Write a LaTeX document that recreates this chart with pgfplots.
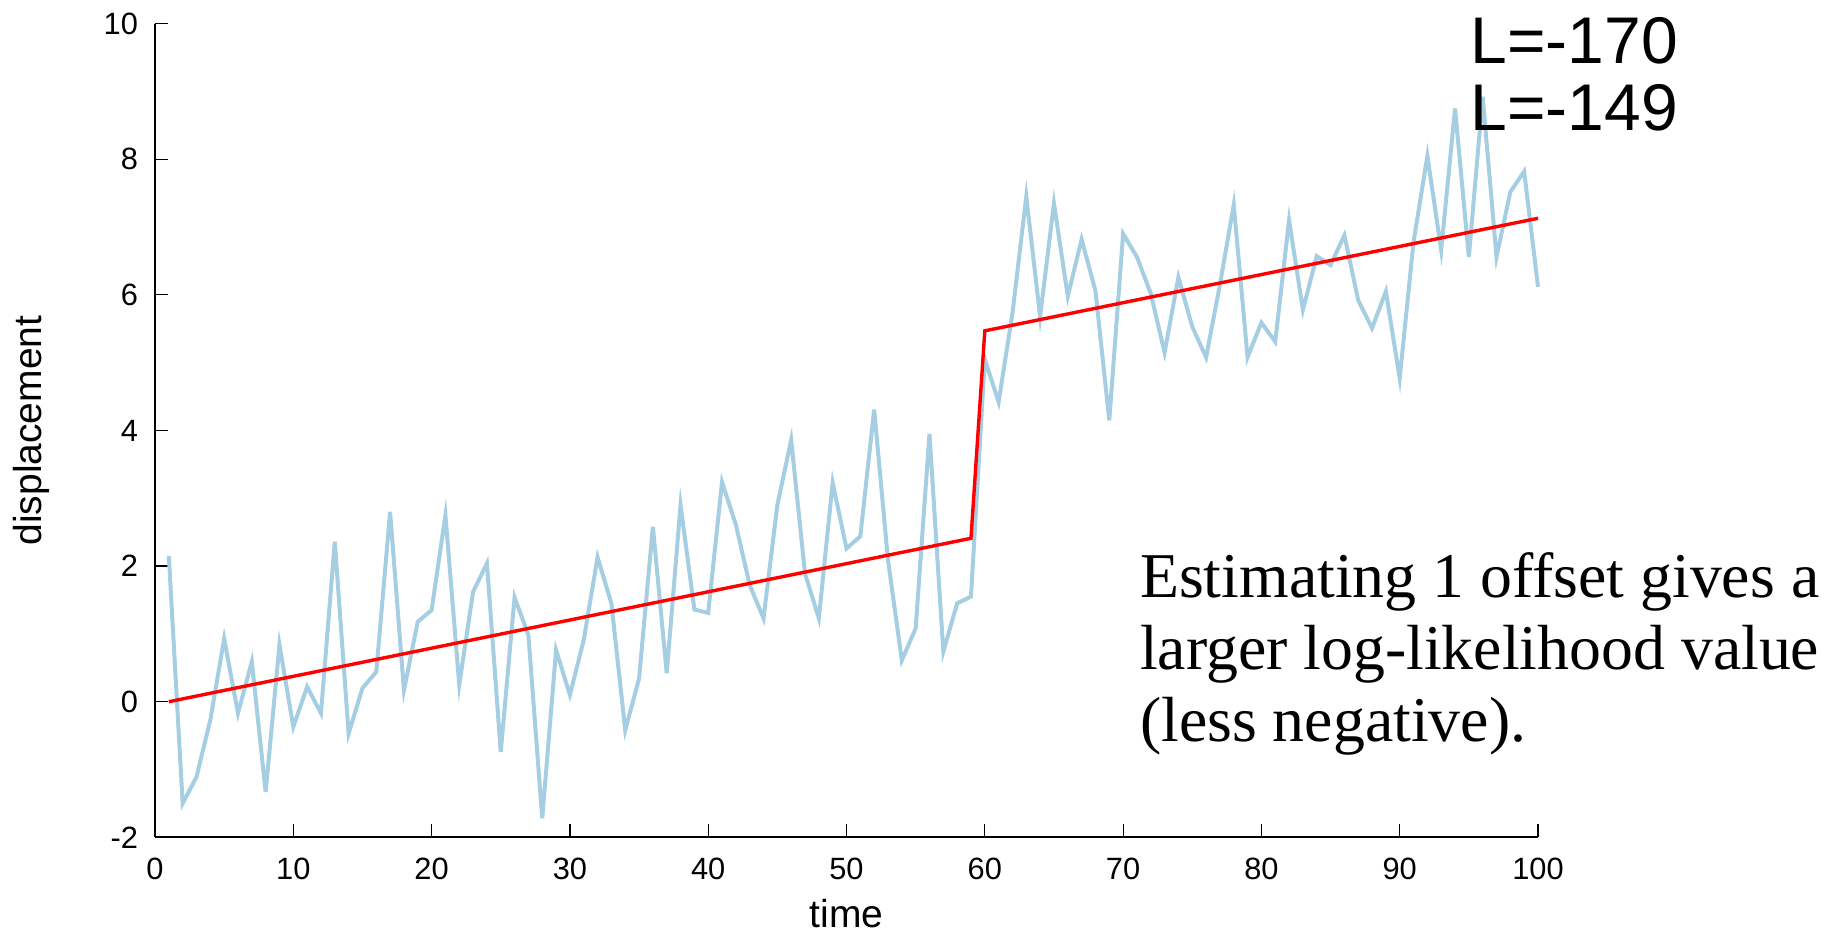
\documentclass[border=0pt]{standalone}
\usepackage{pgfplots}
\pgfplotsset{compat=1.18}
\usepackage{fontspec}
\setmainfont{Liberation Sans}
\newfontfamily\annofont{Liberation Serif}

\definecolor{lightblue}{RGB}{166,206,227}

\begin{document}
\begin{tikzpicture}
\begin{axis}[
    name=ax,
    scale only axis,
    width=691.5pt, height=406.8pt,
    xmin=0, xmax=100,
    ymin=-2, ymax=10,
    axis lines*=left,
    axis line style={black, line width=1.2pt},
    tick align=inside,
    major tick length=6.5pt,
    tick style={black, line width=0.6pt},
    xtick={0,10,...,100},
    ytick={-2,0,...,10},
    ticklabel style={font=\fontsize{15.4}{18}\selectfont},
    /pgf/number format/assume math mode=true,
    xticklabel shift=7pt,
    yticklabel shift=5pt,
    xlabel={time},
    ylabel={displacement},
    label style={font=\fontsize{19.5}{22}\selectfont},
    xlabel style={at={([yshift=-44.9pt]axis description cs:0.5,0)}, anchor=base},
    ylabel style={at={([xshift=-56.8pt]axis description cs:0,0.5)}, anchor=base},
    clip=false,
]

% observed displacement
\addplot[color=lightblue, line width=2pt] coordinates {
    (1,2.15) (2,-1.50) (3,-1.11) (4,-0.27) (5,0.93) (6,-0.17) (7,0.59) (8,-1.33) (9,0.84) (10,-0.37)
    (11,0.22) (12,-0.17) (13,2.36) (14,-0.47) (15,0.20) (16,0.44) (17,2.80) (18,0.17) (19,1.18) (20,1.35)
    (21,2.75) (22,0.25) (23,1.62) (24,2.04) (25,-0.74) (26,1.54) (27,0.98) (28,-1.72) (29,0.76) (30,0.10)
    (31,0.91) (32,2.13) (33,1.45) (34,-0.42) (35,0.34) (36,2.58) (37,0.42) (38,2.90) (39,1.36) (40,1.31)
    (41,3.24) (42,2.61) (43,1.72) (44,1.23) (45,2.90) (46,3.86) (47,1.89) (48,1.23) (49,3.23) (50,2.26)
    (51,2.44) (52,4.31) (53,2.09) (54,0.61) (55,1.08) (56,3.95) (57,0.74) (58,1.45) (59,1.55) (60,5.05)
    (61,4.42) (62,5.73) (63,7.45) (64,5.68) (65,7.35) (66,5.98) (67,6.82) (68,6.06) (69,4.15) (70,6.90)
    (71,6.56) (72,6.02) (73,5.15) (74,6.26) (75,5.53) (76,5.08) (77,6.15) (78,7.33) (79,5.08) (80,5.59)
    (81,5.31) (82,7.10) (83,5.78) (84,6.57) (85,6.44) (86,6.88) (87,5.92) (88,5.51) (89,6.05) (90,4.77)
    (91,6.78) (92,8.05) (93,6.66) (94,8.75) (95,6.56) (96,8.92) (97,6.56) (98,7.52) (99,7.82) (100,6.12)
};

% fitted model with one offset
\addplot[color=red, line width=1.7pt] coordinates {
    (1,0) (59,2.41) (60,5.47) (100,7.13)
};

\node[anchor=base west, inner sep=0pt, font=\fontsize{33}{35}\selectfont] at (axis cs:95.1,9.42) {L=-170};
\node[anchor=base west, inner sep=0pt, font=\fontsize{33}{35}\selectfont] at (axis cs:95.1,8.43) {L=-149};

\node[anchor=base west, inner sep=0pt, font=\annofont\fontsize{31.9}{36}\selectfont] at (axis cs:71.2,1.53) {Estimating 1 offset gives a};
\node[anchor=base west, inner sep=0pt, font=\annofont\fontsize{31.9}{36}\selectfont] at (axis cs:71.2,0.468) {larger log-likelihood value};
\node[anchor=base west, inner sep=0pt, font=\annofont\fontsize{31.9}{36}\selectfont] at (axis cs:71.2,-0.58) {(less negative).};
\end{axis}
\pgfresetboundingbox
\path[use as bounding box] ([shift={(-77.5pt,-47.35pt)}]ax.south west) rectangle ([shift={(839pt,418.65pt)}]ax.south west);
\end{tikzpicture}
\end{document}
